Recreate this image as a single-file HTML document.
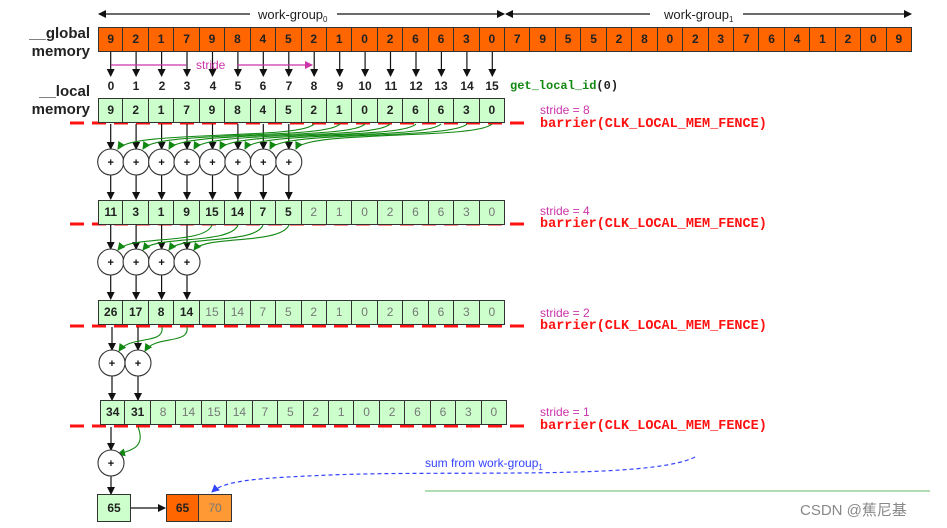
<!DOCTYPE html>
<html><head><meta charset="utf-8">
<style>
body{margin:0;background:#fff;width:947px;height:528px;overflow:hidden;position:relative;font-family:"Liberation Sans",sans-serif}
.row{position:absolute;display:flex;height:25px}
.row div{width:25.44px;box-sizing:border-box;border:1px solid #333;border-left:none;text-align:center;line-height:23px;font-weight:bold;font-size:12px;color:#222}
.row div:first-child{border-left:1px solid #333}
.g div{background:#ff6600}
.l div{background:#ccffcc}
.l div.f{color:#777;font-weight:normal}
.lab{position:absolute;font-weight:bold;font-size:15px;color:#222;text-align:right;width:90px}
.st{position:absolute;color:#cc33aa;font-size:12px}
.bar{position:absolute;color:#ff1111;font-family:"Liberation Mono",monospace;font-weight:bold;font-size:13.5px}
.idx{position:absolute;font-size:12px;font-weight:bold;color:#222;width:26px;text-align:center;top:79px}
svg{position:absolute;left:0;top:0}
</style></head><body>
<svg width="947" height="528">
<defs>
<marker id="ab" markerWidth="8" markerHeight="8" refX="7" refY="4" orient="auto" markerUnits="userSpaceOnUse"><path d="M0,0 L8,4 L0,8z" fill="#111"/></marker>
<marker id="ag" markerWidth="8" markerHeight="8" refX="7" refY="4" orient="auto" markerUnits="userSpaceOnUse"><path d="M0,0 L8,4 L0,8z" fill="#118811"/></marker>
<marker id="am" markerWidth="8" markerHeight="8" refX="7" refY="4" orient="auto" markerUnits="userSpaceOnUse"><path d="M0,0 L8,4 L0,8z" fill="#cc33aa"/></marker>
<marker id="au" markerWidth="8" markerHeight="8" refX="7" refY="4" orient="auto" markerUnits="userSpaceOnUse"><path d="M0,0 L8,4 L0,8z" fill="#3344ff"/></marker>
</defs>
<g stroke="#111" stroke-width="1.2" fill="none">
<path d="M250 14 H100 M250 14 H99" marker-end="url(#ab)"/>
<path d="M337 14 H504" marker-end="url(#ab)"/>
<path d="M650 14 H506" marker-end="url(#ab)"/>
<path d="M743 14 H911" marker-end="url(#ab)"/>
</g>
<text x="258" y="19" font-size="13" fill="#222">work-group<tspan font-size="8" dy="3">0</tspan></text>
<text x="664" y="19" font-size="13" fill="#222">work-group<tspan font-size="8" dy="3">1</tspan></text>
<g stroke="#111" stroke-width="1.2" marker-end="url(#ab)">
<line x1="110.7" y1="52" x2="110.7" y2="76"/><line x1="136.1" y1="52" x2="136.1" y2="76"/><line x1="161.6" y1="52" x2="161.6" y2="76"/><line x1="187" y1="52" x2="187" y2="76"/><line x1="212.5" y1="52" x2="212.5" y2="76"/><line x1="237.9" y1="52" x2="237.9" y2="76"/><line x1="263.3" y1="52" x2="263.3" y2="76"/><line x1="288.8" y1="52" x2="288.8" y2="76"/><line x1="314.2" y1="52" x2="314.2" y2="76"/><line x1="339.7" y1="52" x2="339.7" y2="76"/><line x1="365.1" y1="52" x2="365.1" y2="76"/><line x1="390.5" y1="52" x2="390.5" y2="76"/><line x1="416" y1="52" x2="416" y2="76"/><line x1="441.4" y1="52" x2="441.4" y2="76"/><line x1="466.9" y1="52" x2="466.9" y2="76"/><line x1="492.3" y1="52" x2="492.3" y2="76"/>
</g>
<g stroke="#cc33aa" stroke-width="1.2" fill="none"><path d="M111 65 H186"/><path d="M237 65 H312" marker-end="url(#am)"/></g>
<text x="196" y="69" font-size="12" fill="#cc33aa">stride</text>
<g stroke="#ff1111" stroke-width="3" stroke-dasharray="14,8"><line x1="70" y1="123" x2="530" y2="123"/><line x1="70" y1="224" x2="530" y2="224"/><line x1="70" y1="326" x2="530" y2="326"/><line x1="70" y1="426" x2="530" y2="426"/></g>
<!-- stage1 -->
<g stroke="#111" stroke-width="1.2" marker-end="url(#ab)">
<line x1="110.7" y1="124" x2="110.7" y2="149"/><line x1="136.1" y1="124" x2="136.1" y2="149"/><line x1="161.6" y1="124" x2="161.6" y2="149"/><line x1="187" y1="124" x2="187" y2="149"/><line x1="212.5" y1="124" x2="212.5" y2="149"/><line x1="237.9" y1="124" x2="237.9" y2="149"/><line x1="263.3" y1="124" x2="263.3" y2="149"/><line x1="288.8" y1="124" x2="288.8" y2="149"/>
<line x1="110.7" y1="175" x2="110.7" y2="199"/><line x1="136.1" y1="175" x2="136.1" y2="199"/><line x1="161.6" y1="175" x2="161.6" y2="199"/><line x1="187" y1="175" x2="187" y2="199"/><line x1="212.5" y1="175" x2="212.5" y2="199"/><line x1="237.9" y1="175" x2="237.9" y2="199"/><line x1="263.3" y1="175" x2="263.3" y2="199"/><line x1="288.8" y1="175" x2="288.8" y2="199"/>
<line x1="110.7" y1="225" x2="110.7" y2="249"/><line x1="136.1" y1="225" x2="136.1" y2="249"/><line x1="161.6" y1="225" x2="161.6" y2="249"/><line x1="187" y1="225" x2="187" y2="249"/>
<line x1="110.7" y1="275" x2="110.7" y2="299"/><line x1="136.1" y1="275" x2="136.1" y2="299"/><line x1="161.6" y1="275" x2="161.6" y2="299"/><line x1="187" y1="275" x2="187" y2="299"/>
<line x1="112" y1="327" x2="112" y2="350"/><line x1="138" y1="327" x2="138" y2="350"/>
<line x1="112" y1="376" x2="112" y2="400"/><line x1="138" y1="376" x2="138" y2="400"/>
<line x1="111" y1="427" x2="111" y2="450"/>
<line x1="111" y1="476" x2="111" y2="494"/>
<line x1="131" y1="508" x2="165" y2="508"/>
</g>
<g stroke="#118811" stroke-width="1.1" fill="none" marker-end="url(#ag)">
<path d="M314 124 C300 140,130 130,118 149"/><path d="M340 124 C325 140,155 130,143 149"/><path d="M365 124 C350 140,180 130,169 149"/><path d="M390 124 C375 140,205 130,194 149"/><path d="M416 124 C400 140,230 130,220 149"/><path d="M441 124 C425 140,255 130,245 149"/><path d="M467 124 C450 140,280 130,270 149"/><path d="M492 124 C475 140,305 130,296 149"/>
<path d="M212 225 C205 245,130 235,118 250"/><path d="M238 225 C230 245,155 235,143 250"/><path d="M263 225 C255 245,180 235,169 250"/><path d="M289 225 C280 245,205 235,194 250"/>
<path d="M162 327 C165 345,130 335,119 351"/><path d="M187 327 C190 345,155 335,145 351"/>
<path d="M138 427 C145 445,135 450,118 454"/>
</g>
<g stroke="#333" stroke-width="1.1" fill="#fff">
<circle cx="110.7" cy="162" r="13"/><circle cx="136.1" cy="162" r="13"/><circle cx="161.6" cy="162" r="13"/><circle cx="187" cy="162" r="13"/><circle cx="212.5" cy="162" r="13"/><circle cx="237.9" cy="162" r="13"/><circle cx="263.3" cy="162" r="13"/><circle cx="288.8" cy="162" r="13"/>
<circle cx="110.7" cy="262" r="13"/><circle cx="136.1" cy="262" r="13"/><circle cx="161.6" cy="262" r="13"/><circle cx="187" cy="262" r="13"/>
<circle cx="112" cy="363" r="13"/><circle cx="138" cy="363" r="13"/>
<circle cx="111" cy="463" r="13"/>
</g>
<g font-size="11" font-weight="bold" fill="#111" text-anchor="middle">
<text x="110.7" y="166">+</text><text x="136.1" y="166">+</text><text x="161.6" y="166">+</text><text x="187" y="166">+</text><text x="212.5" y="166">+</text><text x="237.9" y="166">+</text><text x="263.3" y="166">+</text><text x="288.8" y="166">+</text>
<text x="110.7" y="266">+</text><text x="136.1" y="266">+</text><text x="161.6" y="266">+</text><text x="187" y="266">+</text>
<text x="112" y="367">+</text><text x="138" y="367">+</text><text x="111" y="467">+</text>
</g>
<path d="M695 457 C650 480,450 470,330 475 C260 478,225 480,212 492" stroke="#3344ff" stroke-width="1.2" stroke-dasharray="4,3" fill="none" marker-end="url(#au)"/>
<text x="425" y="467" font-size="12" fill="#3344ff">sum from work-group<tspan font-size="8" dy="3">1</tspan></text>
<line x1="425" y1="491" x2="930" y2="491" stroke="#66bb66" stroke-width="1"/>
<text x="800" y="515" font-size="15" fill="#888" font-family="Liberation Sans, Noto Sans CJK SC, sans-serif">CSDN @蕉尼基</text>
</svg>
<div class="lab" style="left:0;top:25px">__global</div>
<div class="lab" style="left:0;top:43px">memory</div>
<div class="lab" style="left:0;top:83px">__local</div>
<div class="lab" style="left:0;top:101px">memory</div>
<div class="row g" style="left:98px;top:27px"><div>9</div><div>2</div><div>1</div><div>7</div><div>9</div><div>8</div><div>4</div><div>5</div><div>2</div><div>1</div><div>0</div><div>2</div><div>6</div><div>6</div><div>3</div><div>0</div><div>7</div><div>9</div><div>5</div><div>5</div><div>2</div><div>8</div><div>0</div><div>2</div><div>3</div><div>7</div><div>6</div><div>4</div><div>1</div><div>2</div><div>0</div><div>9</div></div>
<div class="idx" style="left:98px">0</div><div class="idx" style="left:123px">1</div><div class="idx" style="left:149px">2</div><div class="idx" style="left:174px">3</div><div class="idx" style="left:200px">4</div><div class="idx" style="left:225px">5</div><div class="idx" style="left:250px">6</div><div class="idx" style="left:276px">7</div><div class="idx" style="left:301px">8</div><div class="idx" style="left:327px">9</div><div class="idx" style="left:352px">10</div><div class="idx" style="left:378px">11</div><div class="idx" style="left:403px">12</div><div class="idx" style="left:428px">13</div><div class="idx" style="left:454px">14</div><div class="idx" style="left:479px">15</div>
<div style="position:absolute;left:510px;top:79px;font-family:'Liberation Mono',monospace;font-weight:bold;font-size:12px;color:#118811">get_local_id<span style="color:#222">(0)</span></div>
<div class="row l" style="left:98px;top:98px"><div>9</div><div>2</div><div>1</div><div>7</div><div>9</div><div>8</div><div>4</div><div>5</div><div>2</div><div>1</div><div>0</div><div>2</div><div>6</div><div>6</div><div>3</div><div>0</div></div>
<div class="row l" style="left:98px;top:200px"><div>11</div><div>3</div><div>1</div><div>9</div><div>15</div><div>14</div><div>7</div><div>5</div><div class="f">2</div><div class="f">1</div><div class="f">0</div><div class="f">2</div><div class="f">6</div><div class="f">6</div><div class="f">3</div><div class="f">0</div></div>
<div class="row l" style="left:98px;top:300px"><div>26</div><div>17</div><div>8</div><div>14</div><div class="f">15</div><div class="f">14</div><div class="f">7</div><div class="f">5</div><div class="f">2</div><div class="f">1</div><div class="f">0</div><div class="f">2</div><div class="f">6</div><div class="f">6</div><div class="f">3</div><div class="f">0</div></div>
<div class="row l" style="left:100px;top:400px"><div>34</div><div>31</div><div class="f">8</div><div class="f">14</div><div class="f">15</div><div class="f">14</div><div class="f">7</div><div class="f">5</div><div class="f">2</div><div class="f">1</div><div class="f">0</div><div class="f">2</div><div class="f">6</div><div class="f">6</div><div class="f">3</div><div class="f">0</div></div>
<div class="row l" style="left:97px;top:494px;height:28px"><div style="width:34px;line-height:26px">65</div></div>
<div class="row" style="left:166px;top:494px;height:28px"><div style="width:33px;line-height:26px;background:#ff6600">65</div><div style="width:33px;line-height:26px;background:#ff9933;color:#777;font-weight:normal">70</div></div>
<div class="st" style="left:540px;top:103px">stride = 8</div><div class="bar" style="left:540px;top:117px">barrier(CLK_LOCAL_MEM_FENCE)</div>
<div class="st" style="left:540px;top:204px">stride = 4</div><div class="bar" style="left:540px;top:217px">barrier(CLK_LOCAL_MEM_FENCE)</div>
<div class="st" style="left:540px;top:306px">stride = 2</div><div class="bar" style="left:540px;top:319px">barrier(CLK_LOCAL_MEM_FENCE)</div>
<div class="st" style="left:540px;top:405px">stride = 1</div><div class="bar" style="left:540px;top:419px">barrier(CLK_LOCAL_MEM_FENCE)</div>
</body></html>
